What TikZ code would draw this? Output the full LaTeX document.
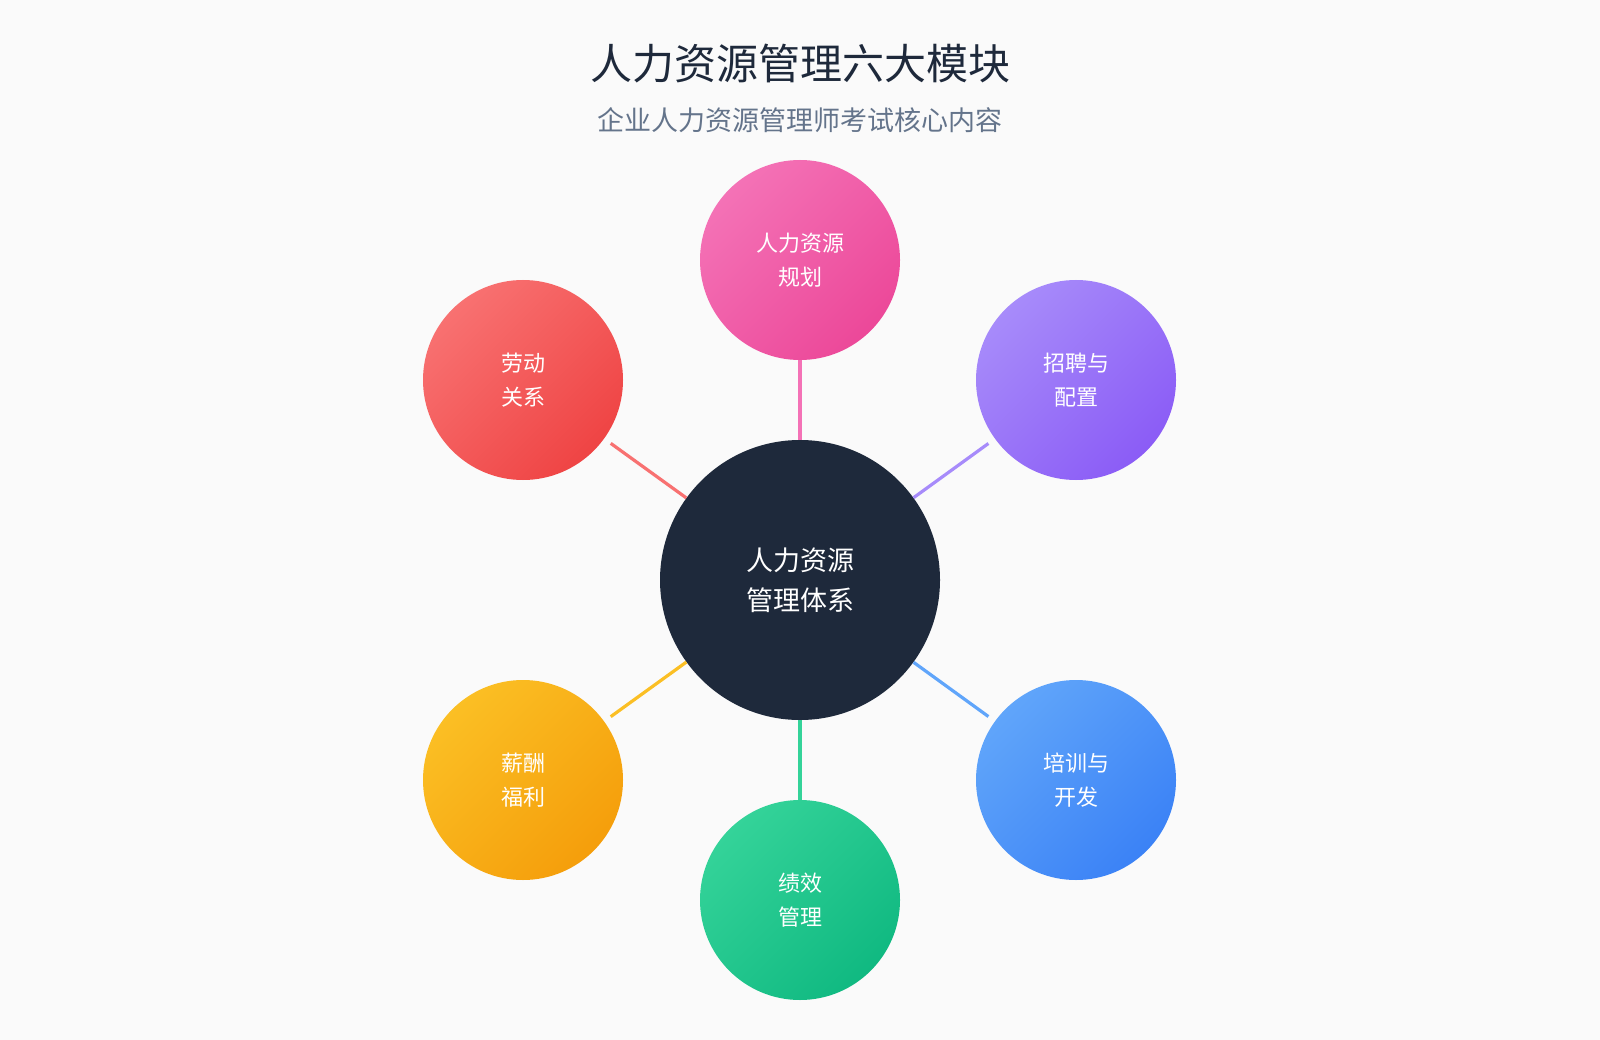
\documentclass[tikz,border=0pt]{standalone}
\usepackage{fontspec}
\setmainfont{Noto Sans CJK SC}
\definecolor{bg}{HTML}{FAFAFA}
\definecolor{dark}{HTML}{1E293B}
\definecolor{sub}{HTML}{64748B}
\definecolor{pinkA}{HTML}{F472B6}\definecolor{pinkB}{HTML}{EC4899}
\definecolor{purA}{HTML}{A78BFA}\definecolor{purB}{HTML}{8B5CF6}
\definecolor{bluA}{HTML}{60A5FA}\definecolor{bluB}{HTML}{3B82F6}
\definecolor{grnA}{HTML}{34D399}\definecolor{grnB}{HTML}{10B981}
\definecolor{yelA}{HTML}{FBBF24}\definecolor{yelB}{HTML}{F59E0B}
\definecolor{redA}{HTML}{F87171}\definecolor{redB}{HTML}{EF4444}
\tikzset{
 sat/.style n args={2}{circle,minimum size=200pt,inner sep=0pt,text=white,align=center,font=\fontsize{22}{34}\selectfont,top color=#1,bottom color=#2,shading angle=45},
 link/.style={line width=3.2pt},
}
\begin{document}
\begin{tikzpicture}[x=1pt,y=-1pt]
\fill[bg] (0,0) rectangle (1600,1040);
\useasboundingbox (0,0) rectangle (1600,1040);
\node[text=dark,font=\fontsize{42}{50}\selectfont] (title) at (800,64) {人力资源管理六大模块};
\node[text=sub,font=\fontsize{27}{32}\selectfont] (subtitle) at (800,120) {企业人力资源管理师考试核心内容};
\node[circle,fill=dark,minimum size=280pt,inner sep=0pt,text=white,align=center,font=\fontsize{27}{40}\selectfont] (c) at (800,580) {人力资源\\管理体系};
\node[sat={pinkA}{pinkB}] (p) at (800,260) {人力资源\\规划};
\node[sat={purA}{purB}] (r) at (1076,380) {招聘与\\配置};
\node[sat={bluA}{bluB}] (t) at (1076,780) {培训与\\开发};
\node[sat={grnA}{grnB}] (g) at (800,900) {绩效\\管理};
\node[sat={yelA}{yelB}] (s) at (523,780) {薪酬\\福利};
\node[sat={redA}{redB}] (l) at (523,380) {劳动\\关系};
\draw[link,pinkA] (c) -- (p);
\draw[link,purA,shorten >=8pt] (c) -- (r);
\draw[link,bluA,shorten >=8pt] (c) -- (t);
\draw[link,grnA] (c) -- (g);
\draw[link,yelA,shorten >=8pt] (c) -- (s);
\draw[link,redA,shorten >=8pt] (c) -- (l);
\end{tikzpicture}
\end{document}
